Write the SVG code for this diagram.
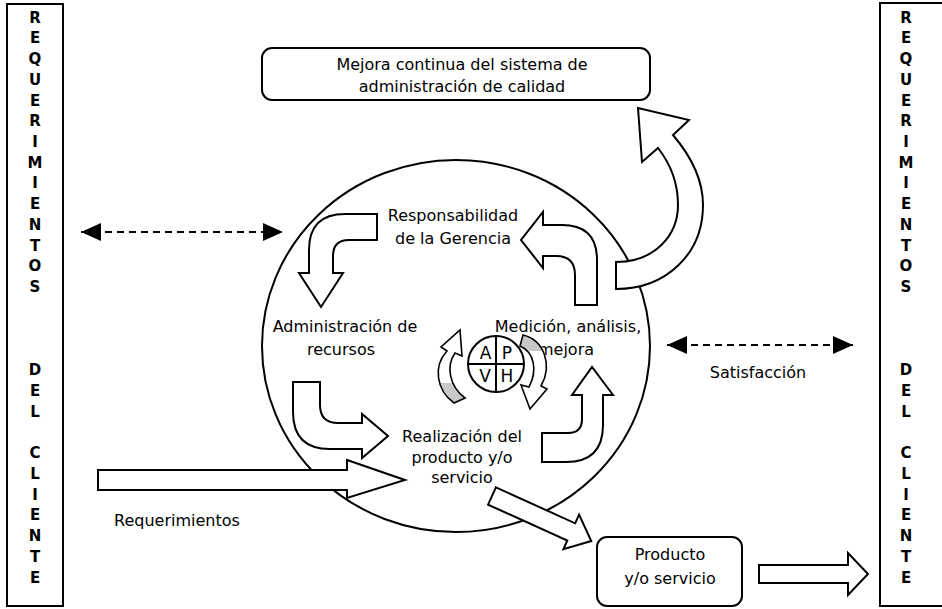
<svg xmlns="http://www.w3.org/2000/svg" width="942" height="609" viewBox="0 0 942 609">
  <defs>
    <style>
      .ln{fill:none;stroke:#000;stroke-width:2}
      .blk{fill:#fff;stroke:#000;stroke-width:2;stroke-linejoin:miter}
      .box{fill:#fff;stroke:#000;stroke-width:2}
      .t{font-family:"DejaVu Sans","Liberation Sans",sans-serif;font-size:16px;fill:#000;text-anchor:middle}
      .v{font-family:"DejaVu Sans","Liberation Sans",sans-serif;font-size:15px;font-weight:bold;fill:#000;text-anchor:middle}
      .q{font-family:"DejaVu Sans","Liberation Sans",sans-serif;font-size:17px;fill:#000;text-anchor:middle}
      .dash{fill:none;stroke:#000;stroke-width:2;stroke-dasharray:7 5}
    </style>
    <marker id="head" markerUnits="userSpaceOnUse" markerWidth="20" markerHeight="18" refX="20" refY="9" orient="auto-start-reverse" viewBox="0 0 20 18">
      <path d="M0,0 L20,9 L0,18 Z" fill="#000"/>
    </marker>
    <linearGradient id="tailLow" x1="0" y1="0" x2="0" y2="1">
      <stop offset="0" stop-color="#fff"/>
      <stop offset="0.72" stop-color="#fff"/>
      <stop offset="0.72" stop-color="#c8c8c8"/>
      <stop offset="1" stop-color="#c8c8c8"/>
    </linearGradient>
    <linearGradient id="tailHigh" x1="0" y1="0" x2="0" y2="1">
      <stop offset="0" stop-color="#c8c8c8"/>
      <stop offset="0.22" stop-color="#c8c8c8"/>
      <stop offset="0.22" stop-color="#fff"/>
      <stop offset="1" stop-color="#fff"/>
    </linearGradient>
  </defs>

  <rect width="942" height="609" fill="#fff"/>

  <!-- customer requirements column (left) -->
  <g id="cliente-entrada">
    <rect class="box" x="7" y="4" width="56" height="602"/>
    <text class="v" x="35 35 35 35 35 35 35 35 35 35 35 35 35 35 35 35 35 35 35 35 35 35 35 35" y="22.5 43.2 64 84.7 105.5 126.2 146.9 167.7 188.4 209.2 229.9 250.6 271.4 292.1 375.1 395.8 416.6 458 478.8 499.5 520.3 541 561.7 582.5">REQUERIMIENTOSDELCLIENTE</text>
  </g>

  <!-- customer requirements column (right) -->
  <g id="cliente-salida">
    <rect class="box" x="880" y="3" width="80" height="603"/>
    <text class="v" x="906 906 906 906 906 906 906 906 906 906 906 906 906 906 906 906 906 906 906 906 906 906 906 906" y="22.5 43.2 64 84.7 105.5 126.2 146.9 167.7 188.4 209.2 229.9 250.6 271.4 292.1 375.1 395.8 416.6 458 478.8 499.5 520.3 541 561.7 582.5">REQUERIMIENTOSDELCLIENTE</text>
  </g>

  <!-- continual improvement box -->
  <g id="mejora-continua">
    <rect class="box" x="262" y="48" width="388" height="52" rx="10"/>
    <text class="t" x="462" y="70">Mejora continua del sistema de</text>
    <text class="t" x="462" y="92">administración de calidad</text>
  </g>

  <!-- process cycle -->
  <g id="ciclo">
    <ellipse class="ln" cx="456" cy="346" rx="194" ry="186"/>
  </g>

  <g id="responsabilidad">
    <text class="t" x="453" y="221">Responsabilidad</text>
    <text class="t" x="453" y="244">de la Gerencia</text>
  </g>

  <g id="administracion">
    <text class="t" x="345" y="332">Administración de</text>
    <text class="t" x="341" y="355">recursos</text>
  </g>

  <g id="medicion">
    <text class="t" x="568" y="332">Medición, análisis,</text>
    <text class="t" x="566" y="355">mejora</text>
  </g>

  <g id="realizacion">
    <text class="t" x="462" y="442">Realización del</text>
    <text class="t" x="462" y="463">producto y/o</text>
    <text class="t" x="462" y="483">servicio</text>
  </g>

  <!-- plan / do / check / act wheel -->
  <g id="pdca">
    <path d="M454,403 C436,390 433,366 447,351 L441,347 L460,330 L462,356 L455,353 C446,366 449,386 465,398 Z" fill="url(#tailLow)" stroke="#000" stroke-width="1.6"/>
    <path d="M523,335 C544,340 553,365 541,386 L547,389 L530,409 L521,385 L529,387 C538,370 534,352 520,346 Z" fill="url(#tailHigh)" stroke="#000" stroke-width="1.6"/>
    <circle class="box" cx="496" cy="364" r="28"/>
    <path class="ln" d="M496,336 V392 M468,364 H524"/>
    <text class="q" x="485.5" y="359">A</text>
    <text class="q" x="507" y="359">P</text>
    <text class="q" x="485" y="382">V</text>
    <text class="q" x="507" y="382">H</text>
  </g>

  <g id="producto">
    <rect class="box" x="597" y="537" width="145" height="69" rx="10"/>
    <text class="t" x="670" y="560">Producto</text>
    <text class="t" x="670" y="584">y/o servicio</text>
  </g>

  <g id="etiquetas">
    <text class="t" x="177" y="526">Requerimientos</text>
    <text class="t" x="758" y="378">Satisfacción</text>
  </g>

  <!-- connectors -->
  <g id="conectores">
    <path class="blk" d="M377,214 L345,214 Q309,214 309,250 L309,273 L299,273 L321,307 L343,273 L333,273 L333,256 Q333,240 349,240 L377,240 Z"/>
    <path class="blk" d="M575,305 L575,275 Q575,256 556,256 L543,256 L543,268 L521,240 L543,212 L543,225 L562,225 Q597,225 597,260 L597,305 Z"/>
    <path class="blk" d="M293,382 L320,382 L320,405 Q320,423 338,423 L362,423 L362,414 L388,436 L362,458 L362,449 L330,449 Q293,449 293,412 Z"/>
    <path class="blk" d="M542,433 L568,433 Q582,433 582,419 L582,395 L572,395 L592,367 L613,395 L603,395 L603,425 Q603,462 566,462 L542,462 Z"/>
    <path class="blk" d="M616,262 C655,262 678,235 678,205 C678,182 669,162 658,148 L642,162 L638,108 L689,120 L673,135 C690,155 703,180 703,205 C703,255 665,289 616,289 Z"/>
    <path class="blk" d="M98,470 L347,470 L347,460 L405,480 L347,498 L347,490 L98,490 Z"/>
    <path class="blk" transform="translate(492,496) rotate(24.4)" d="M0,-9.5 L87,-9.5 L87,-19 L109,0 L87,19 L87,9.5 L0,9.5 Z"/>
    <path class="blk" d="M759,565 L848,565 L848,553 L868,574 L848,595 L848,583 L759,583 Z"/>
    <line class="dash" x1="81" y1="232" x2="283" y2="232" marker-start="url(#head)" marker-end="url(#head)"/>
    <line class="dash" x1="667" y1="345" x2="853" y2="345" marker-start="url(#head)" marker-end="url(#head)"/>
  </g>
</svg>
